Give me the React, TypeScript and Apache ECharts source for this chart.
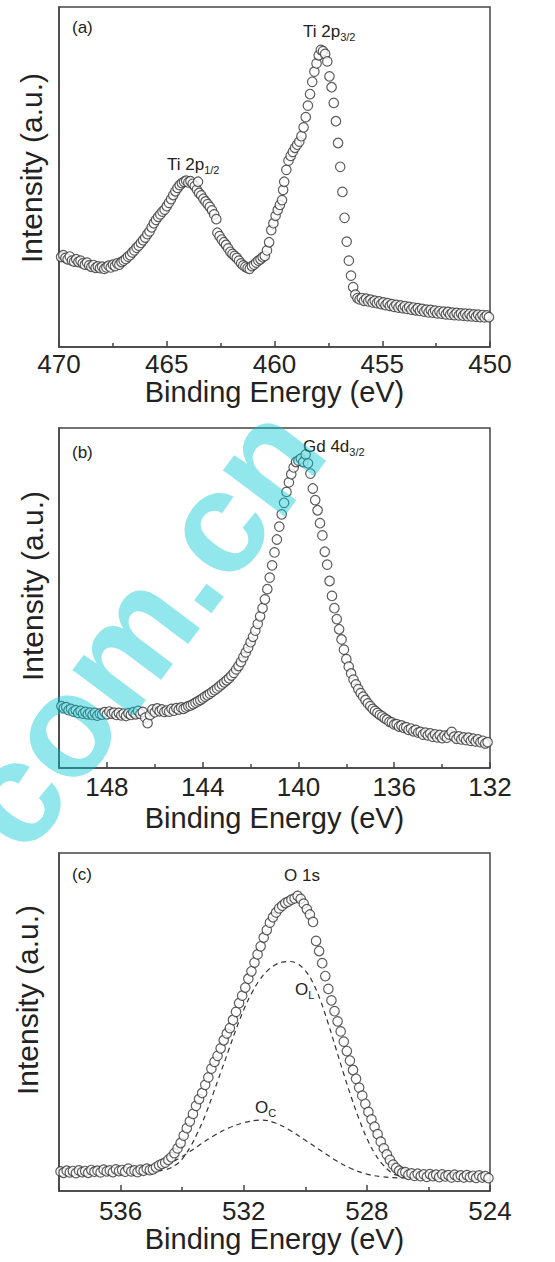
import React, { useEffect, useRef } from "react";
import * as echarts from "echarts";

const FONT = "'Liberation Sans', Arial, Helvetica, sans-serif";
const INK = "#222";
const FRAME = "#444";

// ---------- Panel (a): Ti 2p ----------
const tiRange = [450, 470];
const tiInterval = 5;
const tiData: number[][] = [
  [469.9, 26.5], [469.8, 27.0], [469.7, 26.2], [469.6, 25.8], [469.5, 26.6], [469.4, 25.4], [469.3, 25.1],
  [469.2, 25.8], [469.1, 25.0], [469.0, 25.4], [468.9, 24.6], [468.8, 24.2], [468.7, 24.8], [468.6, 24.0],
  [468.5, 23.6], [468.4, 24.1], [468.3, 23.3], [468.2, 23.7], [468.1, 23.2], [468.0, 23.6], [467.9, 23.0],
  [467.8, 23.4], [467.7, 23.9], [467.6, 23.4], [467.5, 24.2], [467.4, 23.8], [467.3, 24.6], [467.2, 24.2],
  [467.1, 25.0], [467.0, 25.4], [466.9, 25.9], [466.8, 26.6], [466.7, 27.0], [466.6, 27.8], [466.5, 28.4],
  [466.4, 29.2], [466.3, 29.8], [466.2, 30.6], [466.1, 31.4], [466.0, 32.2], [465.9, 33.2], [465.8, 34.0],
  [465.7, 35.2], [465.6, 36.4], [465.5, 37.4], [465.4, 38.3], [465.3, 39.0], [465.2, 39.8], [465.1, 40.4],
  [465.0, 41.4], [464.9, 42.4], [464.8, 43.5], [464.7, 44.7], [464.6, 45.8], [464.5, 46.8], [464.4, 47.6],
  [464.3, 48.2], [464.2, 48.6], [464.1, 48.9], [464.0, 48.4], [463.9, 48.8], [463.8, 48.0], [463.7, 47.3],
  [463.6, 46.3], [463.55, 48.6], [463.5, 45.3], [463.4, 44.6], [463.3, 43.6], [463.2, 42.8], [463.1, 42.0],
  [463.0, 41.2], [462.9, 40.2], [462.8, 39.0], [462.7, 37.6], [462.65, 33.6], [462.55, 32.6], [462.45, 31.6],
  [462.35, 30.8], [462.25, 30.0], [462.15, 29.0], [462.05, 28.0], [461.95, 27.4], [461.85, 26.8],
  [461.75, 26.2], [461.65, 25.4], [461.55, 24.6], [461.45, 24.0], [461.35, 23.6], [461.25, 23.2],
  [461.15, 23.0], [461.05, 23.8], [460.95, 24.2], [460.85, 24.8], [460.75, 25.4], [460.65, 25.8],
  [460.55, 26.4], [460.45, 26.8], [460.35, 28.4], [460.25, 30.8], [460.15, 34.4], [460.05, 36.4],
  [459.95, 38.6], [459.85, 40.3], [459.75, 41.8], [459.65, 43.2], [459.6, 46.2], [459.55, 48.6],
  [459.45, 52.1], [459.35, 54.8], [459.25, 56.2], [459.15, 57.4], [459.05, 58.6], [458.95, 59.5],
  [458.85, 60.4], [458.75, 62.0], [458.65, 64.6], [458.55, 67.6], [458.45, 71.0], [458.35, 74.4],
  [458.25, 78.0], [458.15, 81.0], [458.05, 83.4], [457.95, 85.8], [457.85, 87.4], [457.75, 87.0],
  [457.65, 86.2], [457.55, 84.0], [457.45, 79.6], [457.35, 76.4], [457.25, 71.8], [457.15, 66.4],
  [457.05, 60.0], [456.95, 53.0], [456.85, 45.6], [456.75, 38.0], [456.65, 31.0], [456.55, 25.4],
  [456.45, 21.0], [456.35, 17.6], [456.25, 15.4], [456.15, 14.4], [456.05, 14.0], [455.95, 14.4],
  [455.85, 13.6], [455.75, 14.2], [455.65, 13.4], [455.55, 13.9], [455.45, 13.1], [455.35, 13.6],
  [455.25, 12.9], [455.15, 13.4], [455.05, 12.6], [454.95, 13.1], [454.85, 12.3], [454.75, 12.9],
  [454.65, 12.1], [454.55, 12.6], [454.45, 11.8], [454.35, 12.4], [454.25, 11.6], [454.15, 12.2],
  [454.05, 11.4], [453.95, 12.0], [453.85, 11.2], [453.75, 11.8], [453.65, 11.0], [453.55, 11.6],
  [453.45, 10.8], [453.35, 11.4], [453.25, 10.6], [453.15, 11.2], [453.05, 10.4], [452.95, 11.0],
  [452.85, 10.2], [452.75, 10.9], [452.65, 10.1], [452.55, 10.7], [452.45, 9.9], [452.35, 10.5],
  [452.25, 9.8], [452.15, 10.4], [452.05, 9.6], [451.95, 10.3], [451.85, 9.5], [451.75, 10.1],
  [451.65, 9.4], [451.55, 10.0], [451.45, 9.3], [451.35, 9.9], [451.25, 9.2], [451.15, 9.8],
  [451.05, 9.1], [450.95, 9.7], [450.85, 9.0], [450.75, 9.6], [450.65, 8.9], [450.55, 9.5],
  [450.45, 8.8], [450.35, 9.4], [450.25, 8.7], [450.15, 9.3], [450.05, 8.8],
];

// ---------- Panel (b): Gd 4d ----------
const gdRange = [132, 150];
const gdInterval = 4;
const gdData: number[][] = [
  [149.9, 18.2], [149.8, 17.6], [149.7, 17.9], [149.6, 17.0], [149.5, 17.4], [149.4, 16.6], [149.3, 17.0],
  [149.2, 16.2], [149.1, 16.8], [149.0, 16.0], [148.9, 16.5], [148.8, 15.8], [148.7, 16.3], [148.6, 15.6],
  [148.5, 16.2], [148.4, 15.4], [148.3, 16.0], [148.2, 15.7], [148.1, 16.4], [148.0, 15.8], [147.9, 16.6],
  [147.8, 16.0], [147.7, 16.3], [147.6, 15.6], [147.5, 16.2], [147.4, 15.5], [147.3, 16.0], [147.2, 15.3],
  [147.1, 16.1], [147.0, 15.6], [146.9, 16.4], [146.8, 15.8], [146.7, 16.8], [146.6, 15.9], [146.5, 16.5],
  [146.4, 14.8], [146.3, 13.2], [146.2, 15.6], [146.1, 17.2], [146.0, 16.4], [145.9, 17.5], [145.8, 16.7],
  [145.7, 17.2], [145.6, 16.5], [145.5, 16.9], [145.4, 16.6], [145.3, 17.4], [145.2, 16.9], [145.1, 17.6],
  [145.0, 17.2], [144.9, 17.8], [144.8, 17.4], [144.7, 17.8], [144.6, 18.2], [144.5, 18.4], [144.4, 18.8],
  [144.3, 19.2], [144.2, 19.6], [144.1, 20.0], [144.0, 20.5], [143.9, 21.0], [143.8, 21.4], [143.7, 21.9],
  [143.6, 22.4], [143.5, 22.9], [143.4, 23.4], [143.3, 24.0], [143.2, 24.6], [143.1, 25.2], [143.0, 25.8],
  [142.9, 26.4], [142.8, 27.2], [142.7, 28.0], [142.6, 29.0], [142.5, 30.0], [142.4, 31.2], [142.3, 32.6],
  [142.2, 34.0], [142.1, 35.4], [142.0, 37.0], [141.9, 38.6], [141.8, 40.4], [141.7, 42.4], [141.6, 44.6],
  [141.5, 47.0], [141.4, 49.6], [141.3, 52.6], [141.2, 56.0], [141.1, 59.6], [141.0, 63.4], [140.9, 67.2],
  [140.8, 71.0], [140.7, 74.6], [140.6, 78.0], [140.5, 81.2], [140.4, 84.0], [140.3, 86.4], [140.2, 88.4],
  [140.1, 90.0], [140.0, 90.4], [139.9, 91.0], [139.8, 90.0], [139.7, 92.2], [139.6, 89.6], [139.5, 86.6],
  [139.4, 82.2], [139.3, 78.8], [139.2, 75.8], [139.1, 72.0], [139.0, 68.4], [138.9, 63.6], [138.8, 59.8],
  [138.7, 55.0], [138.6, 50.6], [138.5, 47.0], [138.4, 43.8], [138.3, 40.8], [138.2, 37.8], [138.1, 34.8],
  [138.0, 32.0], [137.9, 29.8], [137.8, 27.8], [137.7, 26.0], [137.6, 24.6], [137.5, 23.2], [137.4, 22.0],
  [137.3, 21.0], [137.2, 20.0], [137.1, 19.0], [137.0, 18.2], [136.9, 17.4], [136.8, 16.8], [136.7, 16.2],
  [136.6, 15.6], [136.5, 15.2], [136.4, 14.6], [136.3, 14.2], [136.2, 13.6], [136.1, 13.4], [136.0, 12.8],
  [135.9, 12.9], [135.8, 12.2], [135.7, 12.5], [135.6, 11.8], [135.5, 12.0], [135.4, 11.2], [135.3, 11.6],
  [135.2, 10.8], [135.1, 11.2], [135.0, 10.4], [134.9, 10.6], [134.8, 9.8], [134.7, 10.4], [134.6, 9.6],
  [134.5, 10.2], [134.4, 9.2], [134.3, 9.9], [134.2, 9.0], [134.1, 9.7], [134.0, 8.8], [133.9, 9.5],
  [133.8, 8.9], [133.7, 9.8], [133.6, 10.6], [133.5, 9.2], [133.4, 8.6], [133.3, 9.3], [133.2, 8.4],
  [133.1, 9.0], [133.0, 8.2], [132.9, 8.9], [132.8, 8.0], [132.7, 8.6], [132.6, 7.8], [132.5, 8.4],
  [132.4, 7.6], [132.3, 8.0], [132.2, 7.2], [132.1, 7.6],
];

// ---------- Panel (c): O 1s ----------
const oRange = [524, 538];
const oInterval = 4;
const oData: number[][] = [
  [537.95, 5.8], [537.85, 5.4], [537.75, 6.0], [537.65, 5.5], [537.55, 5.9], [537.45, 5.3], [537.35, 6.1],
  [537.25, 5.6], [537.15, 5.9], [537.05, 5.4], [536.95, 6.2], [536.85, 5.7], [536.75, 6.0], [536.65, 5.5],
  [536.55, 6.3], [536.45, 5.8], [536.35, 6.1], [536.25, 5.6], [536.15, 6.4], [536.05, 5.9], [535.95, 6.2],
  [535.85, 5.7], [535.75, 6.6], [535.65, 5.8], [535.55, 6.1], [535.45, 5.6], [535.35, 6.3], [535.25, 6.0],
  [535.15, 6.6], [535.05, 6.2], [534.95, 6.4], [534.85, 7.0], [534.75, 7.6], [534.65, 8.0], [534.55, 8.4],
  [534.45, 9.2], [534.35, 10.0], [534.25, 11.2], [534.15, 12.6], [534.05, 14.2], [533.95, 16.4],
  [533.85, 18.6], [533.75, 20.6], [533.65, 22.8], [533.55, 25.2], [533.45, 27.2], [533.35, 29.0],
  [533.25, 31.4], [533.15, 33.6], [533.05, 36.2], [532.95, 38.2], [532.85, 40.0], [532.75, 42.2],
  [532.65, 44.6], [532.55, 46.6], [532.45, 48.2], [532.35, 50.6], [532.25, 53.0], [532.15, 55.6],
  [532.05, 57.8], [531.95, 60.2], [531.85, 62.8], [531.75, 65.0], [531.65, 67.6], [531.55, 70.0],
  [531.45, 72.4], [531.35, 75.0], [531.25, 77.2], [531.15, 79.4], [531.05, 81.0], [530.95, 82.4],
  [530.85, 83.6], [530.75, 84.4], [530.65, 85.2], [530.55, 85.6], [530.45, 86.2], [530.35, 86.6],
  [530.25, 87.3], [530.15, 86.4], [530.05, 85.0], [529.95, 83.4], [529.85, 81.8], [529.75, 79.6],
  [529.65, 74.0], [529.55, 71.0], [529.45, 67.4], [529.35, 63.6], [529.25, 59.8], [529.15, 56.4],
  [529.05, 53.2], [528.95, 50.2], [528.85, 47.2], [528.75, 44.2], [528.65, 41.4], [528.55, 38.6],
  [528.45, 35.8], [528.35, 33.2], [528.25, 30.6], [528.15, 28.2], [528.05, 25.8], [527.95, 23.4],
  [527.85, 21.2], [527.75, 19.0], [527.65, 16.8], [527.55, 14.6], [527.45, 12.6], [527.35, 10.8],
  [527.25, 9.2], [527.15, 7.8], [527.05, 6.8], [526.95, 6.0], [526.85, 5.4], [526.75, 5.6], [526.65, 4.8],
  [526.55, 5.2], [526.45, 4.5], [526.35, 5.1], [526.25, 4.4], [526.15, 4.9], [526.05, 4.2], [525.95, 5.0],
  [525.85, 4.4], [525.75, 4.8], [525.65, 4.1], [525.55, 4.9], [525.45, 4.3], [525.35, 4.7], [525.25, 4.0],
  [525.15, 4.8], [525.05, 4.2], [524.95, 4.6], [524.85, 4.0], [524.75, 4.7], [524.65, 4.1], [524.55, 4.5],
  [524.45, 3.9], [524.35, 4.6], [524.25, 4.0], [524.15, 4.4], [524.05, 3.8],
];
const oLatticeFit: number[][] = [
  [538.0, 5.6], [537.0, 5.6], [536.0, 5.6], [535.0, 5.8], [534.5, 6.4], [534.2, 7.8], [534.0, 9.4],
  [533.7, 13.6], [533.5, 17.2], [533.25, 22.4], [533.0, 28.6], [532.75, 35.0], [532.5, 41.4],
  [532.25, 47.8], [532.0, 53.6], [531.75, 58.4], [531.5, 62.2], [531.25, 65.0], [531.0, 66.8],
  [530.75, 67.7], [530.5, 67.9], [530.25, 67.2], [530.0, 65.2], [529.75, 61.6], [529.5, 56.2],
  [529.25, 49.4], [529.0, 42.0], [528.75, 34.6], [528.5, 27.6], [528.25, 21.2], [528.0, 15.6],
  [527.75, 11.2], [527.5, 8.0], [527.25, 5.8], [527.0, 4.6], [526.5, 4.0], [526.0, 3.9],
];
const oChemFit: number[][] = [
  [538.0, 5.5], [537.0, 5.5], [536.0, 5.6], [535.5, 5.8], [535.0, 6.4], [534.5, 7.8], [534.0, 10.2],
  [533.5, 13.2], [533.0, 16.2], [532.5, 18.6], [532.0, 20.2], [531.6, 20.9], [531.4, 21.0], [531.0, 20.2],
  [530.5, 18.0], [530.0, 15.0], [529.5, 12.0], [529.0, 9.0], [528.5, 6.6], [528.0, 5.0], [527.5, 4.2],
  [527.0, 3.9], [526.5, 3.8],
];

const xTitle = "Binding Energy (eV)";
const yTitle = "Intensity (a.u.)";

const GRIDS = [
  { left: 59, top: 7, width: 431, height: 340, labelMargin: 4, nameGap: 28 },
  { left: 59, top: 428, width: 431, height: 340, labelMargin: 6, nameGap: 35 },
  { left: 59, top: 853, width: 431, height: 338, labelMargin: 7, nameGap: 33 },
];

function xAxisFor(i: number, range: number[], interval: number, showEdge: boolean) {
  return {
    type: "value",
    gridIndex: i,
    min: range[0],
    max: range[1],
    interval,
    inverse: true,
    name: xTitle,
    nameLocation: "middle",
    nameGap: GRIDS[i].nameGap,
    nameTextStyle: { fontSize: 29, color: INK, fontFamily: FONT },
    axisLine: { show: true, lineStyle: { color: FRAME, width: 1.5 } },
    axisTick: { show: true, inside: true, length: 6, lineStyle: { color: FRAME, width: 1.5 } },
    minorTick: { show: true, splitNumber: 2, length: 4, lineStyle: { color: FRAME, width: 1.5 } },
    splitLine: { show: false },
    minorSplitLine: { show: false },
    axisLabel: {
      fontSize: 26,
      color: INK,
      fontFamily: FONT,
      margin: GRIDS[i].labelMargin,
      showMinLabel: true,
      showMaxLabel: showEdge,
    },
  };
}

function yAxisFor(i: number) {
  return {
    type: "value",
    gridIndex: i,
    min: 0,
    max: 100,
    axisLine: { show: true, lineStyle: { color: FRAME, width: 1.5 } },
    axisTick: { show: false },
    axisLabel: { show: false },
    splitLine: { show: false },
  };
}

function scatterFor(i: number, data: number[][]) {
  return {
    type: "scatter",
    xAxisIndex: i,
    yAxisIndex: i,
    data,
    symbol: "circle",
    symbolSize: 9.5,
    itemStyle: { color: "#ffffff", borderColor: "#333", borderWidth: 1.2 },
    z: 3,
  };
}

function fitLine(data: number[][]) {
  return {
    type: "line",
    xAxisIndex: 2,
    yAxisIndex: 2,
    data,
    smooth: 0.4,
    showSymbol: false,
    symbol: "none",
    lineStyle: { color: "#333", width: 1.2, type: [5, 4] },
    z: 2,
  };
}

function label(x: number, y: number, main: string, sub?: string) {
  return {
    type: "text",
    x,
    y,
    z: 10,
    style: {
      text: sub ? `{m|${main}}{s|${sub}}` : `{m|${main}}`,
      align: "left",
      verticalAlign: "middle",
      rich: {
        m: { fontSize: 17, fontFamily: FONT, fill: INK, lineHeight: 22 },
        s: { fontSize: 11, fontFamily: FONT, fill: INK, lineHeight: 11, verticalAlign: "bottom" },
      },
    },
  };
}

function yTitleAt(x: number, y: number) {
  return {
    type: "text",
    x,
    y,
    rotation: Math.PI / 2,
    z: 10,
    style: {
      text: yTitle,
      fontSize: 30,
      fontFamily: FONT,
      fill: INK,
      align: "center",
      verticalAlign: "middle",
    },
  };
}

export default function App() {
  const ref = useRef<HTMLDivElement>(null);

  useEffect(() => {
    if (!ref.current) return;
    const chart = echarts.init(ref.current, null, { renderer: "svg" });
    const option: any = {
      animation: false,
      backgroundColor: "#ffffff",
      grid: GRIDS.map((g) => ({
        left: g.left,
        top: g.top,
        width: g.width,
        height: g.height,
        show: true,
        borderColor: FRAME,
        borderWidth: 1.5,
        backgroundColor: "transparent",
        containLabel: false,
      })),
      xAxis: [
        xAxisFor(0, tiRange, tiInterval, true),
        xAxisFor(1, gdRange, gdInterval, false),
        xAxisFor(2, oRange, oInterval, false),
      ],
      yAxis: [yAxisFor(0), yAxisFor(1), yAxisFor(2)],
      series: [
        fitLine(oLatticeFit),
        fitLine(oChemFit),
        scatterFor(0, tiData),
        scatterFor(1, gdData),
        scatterFor(2, oData),
      ],
      graphic: [
        yTitleAt(31, 168),
        yTitleAt(32, 586),
        yTitleAt(27, 1000),
        label(72, 27, "(a)"),
        label(303, 31, "Ti 2p", "3/2"),
        label(167, 164, "Ti 2p", "1/2"),
        label(72, 452, "(b)"),
        label(303, 446, "Gd 4d", "3/2"),
        label(72, 874, "(c)"),
        label(284, 875, "O 1s"),
        label(295, 989, "O", "L"),
        label(255, 1107, "O", "C"),
        {
          type: "text",
          x: -14,
          y: 829,
          rotation: (53 * Math.PI) / 180,
          z: 100,
          silent: true,
          style: {
            text: "com.cn",
            fontSize: 145,
            fontWeight: "bold",
            fontFamily: FONT,
            fill: "rgba(0,200,210,0.43)",
            align: "left",
            verticalAlign: "middle",
          },
        },
      ],
    };
    chart.setOption(option);
    return () => chart.dispose();
  }, []);

  return (
    <div
      ref={ref}
      style={{ position: "absolute", left: 0, top: 0, width: 555, height: 1262, background: "#fff" }}
    />
  );
}
